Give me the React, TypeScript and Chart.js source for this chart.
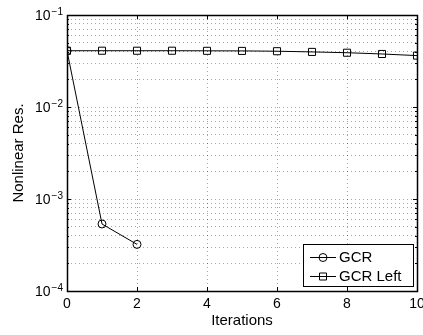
import React, { useEffect, useRef } from 'react';
import { Chart, registerables } from 'chart.js';

Chart.register(...registerables);

const iterationsGCR = [0, 1, 2];
const resGCR = [0.0409, 5.35e-4, 3.21e-4];
const iterationsLeft = [0, 1, 2, 3, 4, 5, 6, 7, 8, 9, 10];
const resLeft = [0.0409, 0.0409, 0.0409, 0.0409, 0.0408, 0.0407, 0.0404, 0.0397, 0.0389, 0.0377, 0.0362];
const xTickValues = [0, 2, 4, 6, 8, 10];
const yDecades = [-4, -3, -2, -1];
const seriesNames = ['GCR', 'GCR Left'];
const xTitle = 'Iterations';
const yTitle = 'Nonlinear Res.';

const FONT = '"Liberation Sans", Arial, Helvetica, sans-serif';

const matlabPlugin = {
  id: 'matlabDecor',
  afterDraw(chart: any) {
    const ctx = chart.ctx;
    const { left, right, top, bottom } = chart.chartArea;
    const xs = chart.scales.x;
    const ys = chart.scales.y;
    ctx.save();
    ctx.strokeStyle = '#000';
    // frame
    ctx.lineWidth = 1.5;
    ctx.strokeRect(Math.round(left) + 0.5, Math.round(top) + 0.5, Math.round(right - left), Math.round(bottom - top));
    ctx.lineWidth = 1;
    // x tick marks (inside, top and bottom)
    ctx.beginPath();
    for (const v of xTickValues) {
      const px = Math.round(xs.getPixelForValue(v)) + 0.5;
      ctx.moveTo(px, bottom);
      ctx.lineTo(px, bottom - 4);
      ctx.moveTo(px, top);
      ctx.lineTo(px, top + 4);
    }
    // y tick marks
    for (let i = 0; i < yDecades.length; i++) {
      const p = yDecades[i];
      const maxK = i === yDecades.length - 1 ? 1 : 9;
      for (let k = 1; k <= maxK; k++) {
        const py = Math.round(ys.getPixelForValue(k * Math.pow(10, p))) + 0.5;
        const len = k === 1 ? 4 : 2;
        ctx.moveTo(left, py);
        ctx.lineTo(left + len, py);
        ctx.moveTo(right, py);
        ctx.lineTo(right - len, py);
      }
    }
    ctx.stroke();

    // y tick labels: 10^p
    ctx.fillStyle = '#000';
    for (const p of yDecades) {
      const py = ys.getPixelForValue(Math.pow(10, p));
      const exp = '\u2212' + String(-p);
      ctx.font = '10px ' + FONT;
      const ew = ctx.measureText(exp).width;
      ctx.font = '14px ' + FONT;
      const bw = ctx.measureText('10').width;
      const endX = left - 4;
      const expX = endX - ew;
      const baseX = expX - bw - 1;
      ctx.textAlign = 'left';
      ctx.textBaseline = 'alphabetic';
      ctx.fillText('10', baseX, py + 5);
      ctx.font = '10px ' + FONT;
      ctx.fillText(exp, expX, py);
    }

    // legend
    const lx0 = 303, ly0 = 244, lx1 = 413, ly1 = 286;
    ctx.fillStyle = '#fff';
    ctx.fillRect(lx0, ly0, lx1 - lx0, ly1 - ly0);
    ctx.strokeStyle = '#000';
    ctx.strokeRect(lx0 + 0.5, ly0 + 0.5, lx1 - lx0, ly1 - ly0);
    const rows = [257, 276];
    rows.forEach((ry, i) => {
      ctx.beginPath();
      ctx.moveTo(310, ry + 0.5);
      ctx.lineTo(336, ry + 0.5);
      ctx.stroke();
      ctx.beginPath();
      if (i === 0) {
        ctx.arc(323, ry + 0.5, 4, 0, Math.PI * 2);
      } else {
        ctx.rect(319.5, ry - 3, 7, 7);
      }
      ctx.stroke();
      ctx.fillStyle = '#000';
      ctx.font = '15px ' + FONT;
      ctx.textAlign = 'left';
      ctx.textBaseline = 'middle';
      ctx.fillText(seriesNames[i], 339, ry + 1);
    });
    ctx.restore();
  },
};

export default function App() {
  const ref = useRef<HTMLCanvasElement | null>(null);
  useEffect(() => {
    if (!ref.current) return;
    Chart.defaults.font.family = FONT;
    const chart = new Chart(ref.current, {
      type: 'line',
      data: {
        datasets: [
          {
            label: seriesNames[0],
            data: iterationsGCR.map((x, i) => ({ x, y: resGCR[i] })),
            borderColor: '#000',
            borderWidth: 1,
            pointStyle: 'circle',
            pointRadius: 4,
            pointBorderWidth: 1,
            pointBorderColor: '#000',
            pointBackgroundColor: 'rgba(0,0,0,0)',
            fill: false,
            tension: 0,
          },
          {
            label: seriesNames[1],
            data: iterationsLeft.map((x, i) => ({ x, y: resLeft[i] })),
            borderColor: '#000',
            borderWidth: 1,
            pointStyle: 'rect',
            pointRadius: 5,
            pointBorderWidth: 1,
            pointBorderColor: '#000',
            pointBackgroundColor: 'rgba(0,0,0,0)',
            fill: false,
            tension: 0,
          },
        ],
      },
      options: {
        animation: false,
        responsive: false,
        maintainAspectRatio: false,
        layout: { padding: { top: 15, right: 6, left: 0, bottom: 0 } },
        plugins: { legend: { display: false }, tooltip: { enabled: false } },
        scales: {
          x: {
            type: 'linear',
            min: 0,
            max: 10,
            afterBuildTicks: (s: any) => {
              s.ticks = xTickValues.map((v) => ({ value: v }));
            },
            afterFit: (s: any) => {
              s.height = 44;
              s.paddingLeft = 0;
              s.paddingRight = 0;
            },
            ticks: {
              color: '#000',
              font: { size: 14, family: FONT },
              padding: 5,
              maxRotation: 0,
              autoSkip: false,
              callback: (v: any) => String(v),
            },
            grid: {
              color: 'rgba(0,0,0,0.35)',
              lineWidth: 1,
              drawTicks: false,
              borderDash: [1, 3],
            } as any,
            border: { display: false, dash: [1, 3] },
            title: {
              display: true,
              text: xTitle,
              color: '#000',
              font: { size: 15, family: FONT },
              padding: { top: 0, bottom: 5 },
            },
          },
          y: {
            type: 'logarithmic',
            min: 1e-4,
            max: 1e-1,
            afterBuildTicks: (s: any) => {
              const t: any[] = [];
              yDecades.forEach((p, i) => {
                const maxK = i === yDecades.length - 1 ? 1 : 9;
                for (let k = 1; k <= maxK; k++) t.push({ value: k * Math.pow(10, p), major: k === 1 });
              });
              s.ticks = t;
            },
            afterFit: (s: any) => {
              s.width = 67;
              s.paddingTop = 0;
              s.paddingBottom = 0;
            },
            ticks: { display: false },
            grid: {
              color: 'rgba(0,0,0,0.35)',
              lineWidth: 1,
              drawTicks: false,
              borderDash: [1, 3],
            } as any,
            border: { display: false, dash: [1, 3] },
            title: {
              display: true,
              text: yTitle,
              color: '#000',
              font: { size: 15, family: FONT },
              padding: { top: 10, bottom: 0 },
            },
          },
        },
      } as any,
      plugins: [matlabPlugin],
    });
    return () => chart.destroy();
  }, []);
  return (
    <div style={{ position: 'fixed', left: 0, top: 0, width: 423, height: 335, background: '#fff' }}>
      <canvas ref={ref} width={423} height={335} style={{ display: 'block', width: 423, height: 335 }} />
    </div>
  );
}
